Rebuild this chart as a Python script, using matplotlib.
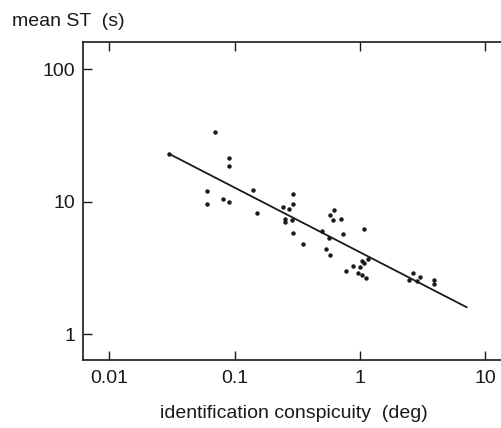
import matplotlib
matplotlib.use('Agg')
import matplotlib.pyplot as plt
from matplotlib.ticker import FixedLocator, FixedFormatter, NullLocator

plt.rcParams['font.family'] = ['Liberation Sans', 'DejaVu Sans']

# data
conspicuity = [0.030, 0.070, 0.090, 0.090, 0.060, 0.060, 0.080, 0.090,
               0.141, 0.151, 0.242, 0.292, 0.292, 0.272, 0.251, 0.251,
               0.286, 0.292, 0.351, 0.498, 0.564, 0.533, 0.580, 0.580,
               0.621, 0.610, 0.711, 0.733, 1.078, 0.774, 0.876, 0.966,
               1.007, 1.039, 1.084, 1.039, 1.119, 1.160, 2.47, 2.67,
               2.87, 3.00, 3.88, 3.88]
mean_st = [23.0, 33.5, 21.4, 18.5, 12.0, 9.6, 10.5, 10.0,
           12.3, 8.25, 9.15, 11.4, 9.64, 8.75, 7.36, 6.98,
           7.23, 5.77, 4.77, 6.00, 5.29, 4.42, 3.94, 7.93,
           8.60, 7.27, 7.36, 5.67, 6.18, 2.98, 3.27, 2.91,
           3.20, 3.59, 3.43, 2.78, 2.64, 3.71, 2.58, 2.91,
           2.54, 2.72, 2.57, 2.38]

# fitted line end points
fit_x = [0.030, 7.1]
fit_y = [23.0, 1.6]

x_ticks = [0.01, 0.1, 1, 10]
x_labels = ['0.01', '0.1', '1', '10']
y_ticks = [1, 10, 100]
y_labels = ['1', '10', '100']

fig = plt.figure(figsize=(5.02, 4.28), dpi=100)
ax = fig.add_axes([0.166, 0.159, 0.834, 0.742])

ax.plot(fit_x, fit_y, color='#1a1a1a', lw=1.3)
ax.plot(conspicuity, mean_st, 'o', color='#1a1a1a', ms=3.2, mew=0)

ax.set_xscale('log')
ax.set_yscale('log')
ax.set_xlim(0.0062, 13.6)
ax.set_ylim(0.64, 159.6)

ax.xaxis.set_major_locator(FixedLocator(x_ticks))
ax.xaxis.set_major_formatter(FixedFormatter(x_labels))
ax.xaxis.set_minor_locator(NullLocator())
ax.yaxis.set_major_locator(FixedLocator(y_ticks))
ax.yaxis.set_major_formatter(FixedFormatter(y_labels))
ax.yaxis.set_minor_locator(NullLocator())

ax.tick_params(axis='x', direction='in', top=True, length=6.5, width=1,
               pad=7.5, labelsize=14, colors='#1a1a1a')
ax.tick_params(axis='y', direction='in', length=6.5, width=1,
               pad=6, labelsize=14, colors='#1a1a1a')

ax.spines['right'].set_visible(False)
for s in ['left', 'top', 'bottom']:
    ax.spines[s].set_linewidth(1.2)
    ax.spines[s].set_color('#1a1a1a')

fig.text(12 / 502, 1 - 22 / 428, 'mean ST  (s)', fontsize=14,
         va='center', ha='left', color='#1a1a1a')
fig.text(294 / 502, 1 - 414 / 428, 'identification conspicuity  (deg)',
         fontsize=14, va='center', ha='center', color='#1a1a1a')

fig.savefig('out.png', dpi=100)
